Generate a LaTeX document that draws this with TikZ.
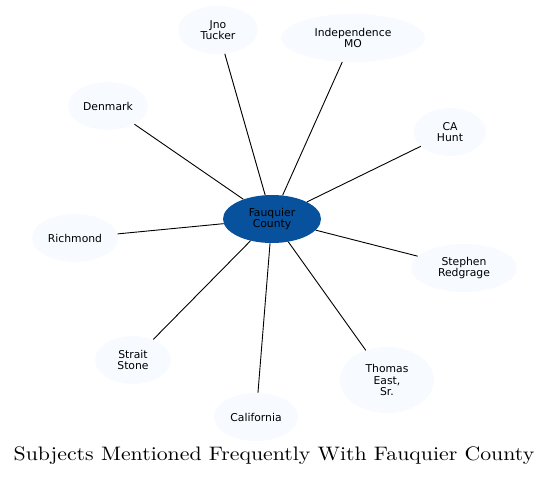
\documentclass[tikz,border=0pt]{standalone}
\usepackage{fontspec}
\newfontfamily\nodefont{DejaVu Sans}
\usetikzlibrary{shapes.geometric}
\definecolor{hub}{HTML}{08519C}
\definecolor{leaf}{HTML}{F7FBFF}
\tikzset{
  leafnode/.style={ellipse, draw=none, fill=leaf, inner sep=0pt, align=center,
    font=\nodefont\fontsize{10.8}{11.5}\selectfont},
  hubnode/.style={leafnode, fill=hub},
  link/.style={draw=black, line width=0.9pt}
}
\begin{document}
\begin{tikzpicture}[x=1pt,y=-1pt]
\useasboundingbox (0,0) rectangle (549,477);
\node[hubnode, minimum width=98pt, minimum height=48pt] (fc) at (272,219) {Fauquier\\County};
\node[leafnode, minimum width=80pt, minimum height=48pt] (jt) at (218,30) {Jno\\Tucker};
\node[leafnode, minimum width=144pt, minimum height=48pt] (im) at (353,38) {Independence\\MO};
\node[leafnode, minimum width=80pt, minimum height=48pt] (dk) at (108,106) {Denmark};
\node[leafnode, minimum width=72pt, minimum height=48pt] (ch) at (450,132) {CA\\Hunt};
\node[leafnode, minimum width=86pt, minimum height=48pt] (rm) at (75,238) {Richmond};
\node[leafnode, minimum width=106pt, minimum height=48pt] (sr) at (464,268) {Stephen\\Redgrage};
\node[leafnode, minimum width=76pt, minimum height=48pt] (ss) at (133,360) {Strait\\Stone};
\node[leafnode, minimum width=84pt, minimum height=48pt] (ca) at (256,417) {California};
\node[leafnode, minimum width=94pt, minimum height=66pt] (te) at (387,380) {Thomas\\East,\\Sr.};
\node[font=\fontsize{10}{12}\selectfont, xscale=2.18, yscale=1.95] (title) at (274,456) {Subjects Mentioned Frequently With Fauquier County};
\foreach \n in {jt,im,dk,ch,rm,sr,ss,ca,te} {
  \draw[link] (fc) -- (\n);
}
\end{tikzpicture}
\end{document}
